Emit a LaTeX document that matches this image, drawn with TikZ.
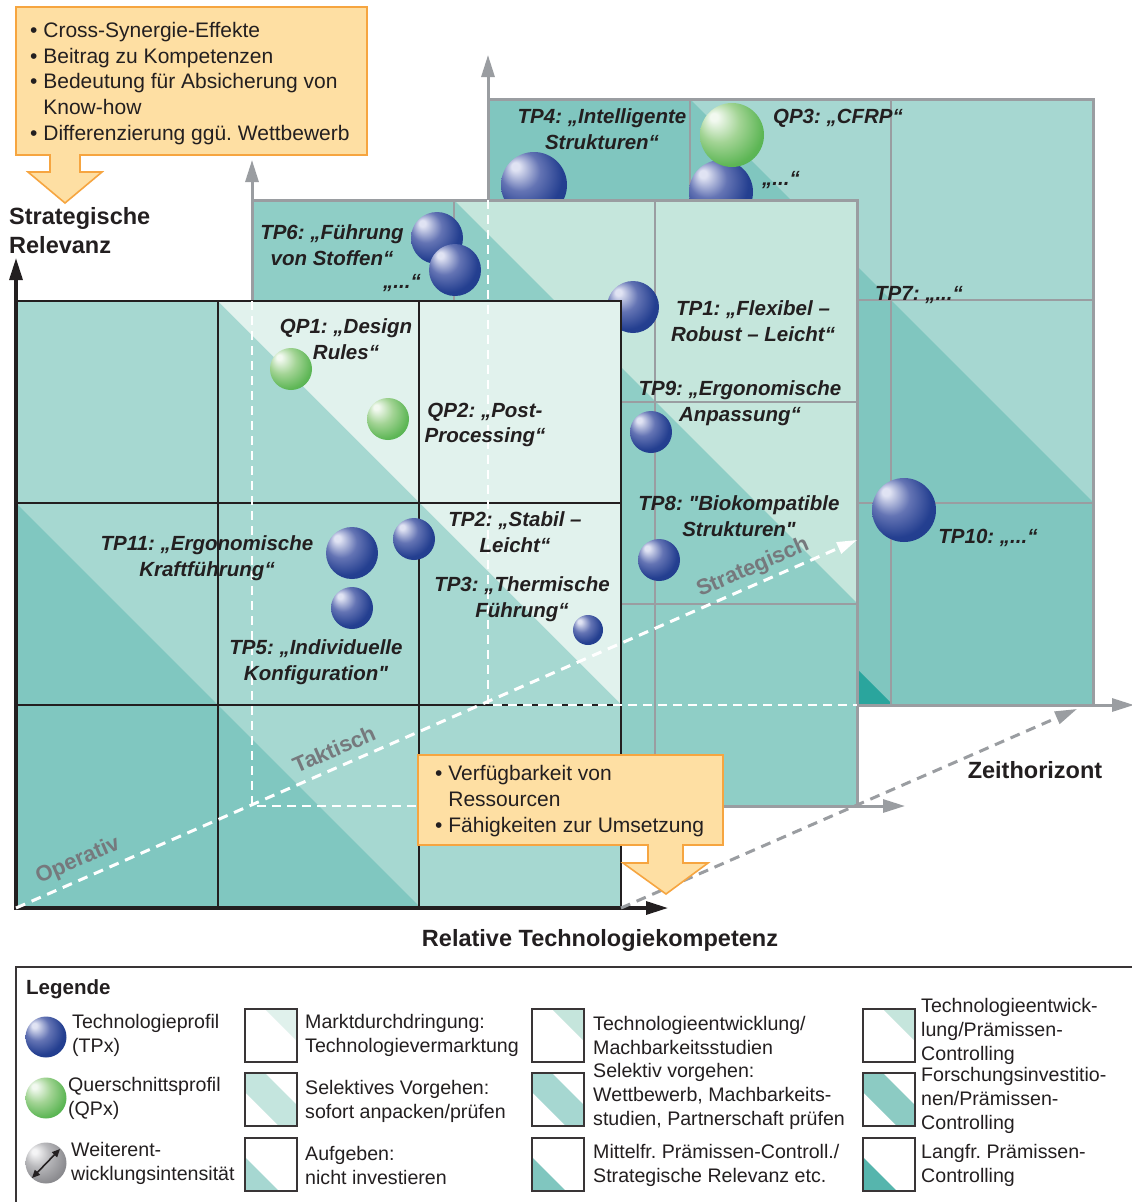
\documentclass[tikz,border=0pt]{standalone}
\usepackage{fontspec}
\setmainfont{Liberation Sans}
\usetikzlibrary{arrows.meta}

\definecolor{ink}{HTML}{231F20}
\definecolor{axgray}{HTML}{9A9DA1}
\definecolor{lblgray}{HTML}{76797D}
% front (operative) matrix
\definecolor{fL}{HTML}{E1F2ED}
\definecolor{fM}{HTML}{A6D8D1}
\definecolor{fD}{HTML}{80C7C0}
% middle (tactical) matrix
\definecolor{mL}{HTML}{C5E6DC}
\definecolor{mM}{HTML}{8FCEC6}
\definecolor{mD}{HTML}{6CBFB7}
% back (strategic) matrix
\definecolor{bL}{HTML}{A6D7D1}
\definecolor{bM}{HTML}{80C6BF}
\definecolor{bD}{HTML}{2AA59D}
% call-out boxes
\definecolor{orFill}{HTML}{FEDFA3}
\definecolor{orLine}{HTML}{F6A540}
% legend tiles
\definecolor{tA1}{HTML}{E0F1EC}
\definecolor{tA2}{HTML}{C4E5DE}
\definecolor{tA3}{HTML}{A6D7D1}
\definecolor{tB1}{HTML}{C5E5DC}
\definecolor{tB2}{HTML}{A6D7D1}
\definecolor{tB3}{HTML}{80C6BF}
\definecolor{tC1}{HTML}{C5E5DC}
\definecolor{tC2}{HTML}{8CCBC3}
\definecolor{tC3}{HTML}{56B5AD}
% sphere shadings
\definecolor{sbA}{HTML}{E0E3F3}
\definecolor{sbB}{HTML}{6474B4}
\definecolor{sbC}{HTML}{243F90}
\definecolor{sbD}{HTML}{163887}
\definecolor{sgA}{HTML}{F2F9F0}
\definecolor{sgB}{HTML}{A3D495}
\definecolor{sgC}{HTML}{5DB655}
\definecolor{sgD}{HTML}{2EAA4C}
\definecolor{swA}{HTML}{F4F4F5}
\definecolor{swB}{HTML}{B9B9BC}
\definecolor{swC}{HTML}{8C8C90}
\definecolor{swD}{HTML}{67676B}

\pgfdeclareradialshading{sphblue}{\pgfpoint{-15bp}{15bp}}{color(0bp)=(sbA); color(3bp)=(sbA); color(15bp)=(sbB); color(28bp)=(sbC); color(50bp)=(sbD)}
\pgfdeclareradialshading{sphgreen}{\pgfpoint{-15bp}{15bp}}{color(0bp)=(sgA); color(3bp)=(sgA); color(16bp)=(sgB); color(30bp)=(sgC); color(50bp)=(sgD)}
\pgfdeclareradialshading{sphgray}{\pgfpoint{-15bp}{15bp}}{color(0bp)=(swA); color(3bp)=(swA); color(15bp)=(swB); color(30bp)=(swC); color(50bp)=(swD)}

% legend tiles: upper triangle, diagonal band, lower triangle
\newcommand\tileU[3]{\begin{scope}[shift={(#1,#2)}]
  \fill[#3] (20,0) -- (52,0) -- (52,32) -- cycle;
  \draw[tileframe] (0,0) rectangle (52,53);\end{scope}}
\newcommand\tileB[3]{\begin{scope}[shift={(#1,#2)}]
  \fill[#3] (0,0) -- (20,0) -- (52,32) -- (52,53) -- (34,53) -- (0,19) -- cycle;
  \draw[tileframe] (0,0) rectangle (52,53);\end{scope}}
\newcommand\tileD[3]{\begin{scope}[shift={(#1,#2)}]
  \fill[#3] (0,19) -- (0,53) -- (34,53) -- cycle;
  \draw[tileframe] (0,0) rectangle (52,53);\end{scope}}

\begin{document}
\frenchspacing
\begin{tikzpicture}[x=1pt,y=-1pt,
  frameG/.style={draw=axgray, line width=3pt},
  gridG/.style={draw=axgray, line width=2pt},
  frameK/.style={draw=ink, line width=2.6pt},
  gridK/.style={draw=ink, line width=2pt},
  axisK/.style={draw=ink, line width=3.2pt, {Triangle[length=22pt,width=13pt]}-{Triangle[length=22pt,width=13pt]}},
  axisG/.style={draw=axgray, line width=3pt, {Triangle[length=22pt,width=13pt]}-{Triangle[length=22pt,width=13pt]}},
  wdash/.style={draw=white, line width=2.6pt, dash pattern=on 9pt off 6pt},
  sph/.style={circle, inner sep=0pt, draw=none, shade},
  blueS/.style={sph, shading=sphblue},
  greenS/.style={sph, shading=sphgreen},
  grayS/.style={sph, shading=sphgray},
  lbl/.style={font=\fontsize{20.5}{25.5}\selectfont\bfseries\itshape, text=ink, align=center, inner sep=0pt},
  axlbl/.style={font=\fontsize{23.5}{29}\selectfont\bfseries, text=ink, inner sep=0pt},
  diaglbl/.style={font=\fontsize{22}{26}\selectfont\bfseries, text=lblgray, rotate=23.4, inner sep=0pt},
  otext/.style={font=\fontsize{21}{25.8}\selectfont, text=ink, align=left, inner sep=0pt, anchor=west},
  obox/.style={fill=orFill, draw=orLine, line width=1.6pt},
  legtxt/.style={font=\fontsize{19.6}{24}\selectfont, text=ink, align=left, inner sep=0pt, anchor=west},
  tileframe/.style={draw=ink!90, line width=1.4pt},
]
\useasboundingbox (0,0) rectangle (1132,1202);
\clip (0,0) rectangle (1132,1202);
\fill[white] (0,0) rectangle (1132,1202);

% ---------- strategic (back) matrix ----------
\fill[bM] (488,99) rectangle (1093,705);
\fill[bL] (690,99) -- (1093,99) -- (1093,502) -- cycle;
\fill[bD] (488,300) -- (488,705) -- (893,705) -- cycle;
\draw[gridG] (690,99) -- (690,705) (891,99) -- (891,705) (488,300) -- (1093,300) (488,503) -- (1093,503);
\draw[frameG] (488,99) rectangle (1093,705);
\draw[axisG] (488,55) -- (488,705) -- (1134,705);

\node[blueS, minimum size=66pt] (sTP4) at (534,185) {};
\node[blueS, minimum size=64pt] (sB2) at (721,192) {};
\node[greenS, minimum size=64pt] (sQP3) at (732,135) {};
\node[blueS, minimum size=64pt] (sTP10) at (904,510) {};
\node[lbl] (tTP4) at (602,129) {TP4: „Intelligente\\Strukturen“};
\node[lbl] (tQP3) at (838,118) {QP3: „CFRP“};
\node[lbl] (tB2) at (781,180) {„...“};
\node[lbl] (tTP7) at (919,295) {TP7: „...“};
\node[lbl] (tTP10) at (988,538) {TP10: „...“};

% ---------- tactical (middle) matrix ----------
\fill[mM] (252,200) rectangle (857,806);
\fill[mL] (454,200) -- (857,200) -- (857,603) -- cycle;
\fill[mD] (252,402) -- (252,806) -- (656,806) -- cycle;
\draw[gridG] (454,200) -- (454,806) (655,200) -- (655,806) (252,402) -- (857,402) (252,604) -- (857,604);
\draw[frameG] (252,200) rectangle (857,806);
\draw[axisG] (252,160) -- (252,806) -- (905,806);

\node[blueS, minimum size=52pt] (sTP6a) at (437,238) {};
\node[blueS, minimum size=52pt] (sTP6b) at (455,270) {};
\node[blueS, minimum size=52pt] (sTP1) at (633,307) {};
\node[blueS, minimum size=42pt] (sTP9) at (651,432) {};
\node[blueS, minimum size=42pt] (sTP8) at (659,560) {};
\node[lbl] (tTP6) at (332,245) {TP6: „Führung\\von Stoffen“};
\node[lbl] (tM2) at (402,283) {„...“};
\node[lbl] (tTP1) at (753,321) {TP1: „Flexibel –\\Robust – Leicht“};
\node[lbl] (tTP9) at (740,403) {TP9: „Ergonomische\\Anpassung“};
\node[lbl] (tTP8) at (739,516) {TP8: \textquotedbl Biokompatible\\Strukturen\textquotedbl};

% ---------- operative (front) matrix ----------
\fill[fM] (16,301) rectangle (621,908);
\fill[fL] (218,301) -- (621,301) -- (621,704) -- cycle;
\fill[fD] (16,503) -- (16,908) -- (421,908) -- cycle;
\draw[gridK] (218,301) -- (218,908) (419,301) -- (419,908) (16,503) -- (621,503) (16,705) -- (621,705);
\draw[frameK] (16,301) rectangle (621,908);
\draw[axisK] (16,258) -- (16,908) -- (668,908);

% hidden edges of the rear matrices
\coordinate (oF) at (16,908);
\coordinate (oM) at (252,806);
\coordinate (oB) at (488,705);
\coordinate (cF) at (621,908);
\coordinate (cM) at (857,806);
\coordinate (tipW) at (857,540);
\coordinate (tipG) at (1077,709);
\draw[wdash] (252,301) -- (oM) -- (621,806);
\draw[wdash] (488,200) -- (oB) -- (857,705);

\node[greenS, minimum size=42pt] (sQP1) at (291,369) {};
\node[greenS, minimum size=42pt] (sQP2) at (388,419) {};
\node[blueS, minimum size=52pt] (sTP11) at (352,553) {};
\node[blueS, minimum size=42pt] (sTP2) at (414,539) {};
\node[blueS, minimum size=42pt] (sTP5) at (352,608) {};
\node[blueS, minimum size=30pt] (sTP3) at (588,630) {};
\node[lbl] (tQP1) at (346,339) {QP1: „Design\\Rules“};
\node[lbl] (tQP2) at (485,425) {QP2: „Post-\\Processing“};
\node[lbl] (tTP11) at (207,558) {TP11: „Ergonomische\\Kraftführung“};
\node[lbl] (tTP2) at (515,532) {TP2: „Stabil –\\Leicht“};
\node[lbl] (tTP3) at (522,599) {TP3: „Thermische\\Führung“};
\node[lbl] (tTP5) at (316,662) {TP5: „Individuelle\\Konfiguration\textquotedbl};

% time horizon diagonals
\draw[wdash, line width=3pt, dash pattern=on 10pt off 7pt, -{Triangle[length=20pt,width=12pt]}] (oF) -- (tipW);
\node[diaglbl] (dOp) at (78,861) {Operativ};
\node[diaglbl] (dTa) at (334,749) {Taktisch};
\node[diaglbl] (dSt) at (753,568) {Strategisch};
\draw[axgray, line width=3pt, dash pattern=on 10pt off 7pt, -{Triangle[length=22pt,width=13pt]}] (cF) -- (tipG);

% call-out boxes
\filldraw[obox] (16,7) -- (367,7) -- (367,155) -- (80,155) -- (80,172) -- (102,172) -- (65,203) -- (28,172) -- (50,172) -- (50,155) -- (16,155) -- cycle;
\node[otext] (oTop) at (30,83.5) {• Cross-Synergie-Effekte\\• Beitrag zu Kompetenzen\\• Bedeutung für Absicherung von\\\hphantom{• }Know-how\\• Differenzierung ggü. Wettbewerb};
\filldraw[obox] (418,755) -- (723,755) -- (723,845) -- (683,845) -- (683,863) -- (708,863) -- (666,894) -- (623,863) -- (648,863) -- (648,845) -- (418,845) -- cycle;
\node[otext] (oBot) at (435,801) {• Verfügbarkeit von\\\hphantom{• }Ressourcen\\• Fähigkeiten zur Umsetzung};

% axis titles
\node[axlbl, align=left, anchor=west] (yTitle) at (9,230.5) {Strategische\\Relevanz};
\node[axlbl] (xTitle) at (600,940) {Relative Technologiekompetenz};
\node[axlbl] (zTitle) at (1035,770) {Zeithorizont};

% ---------- legend ----------
\draw[draw=ink!90, line width=1.5pt] (16,967) rectangle (1150,1220);
\node[font=\fontsize{20.5}{24}\selectfont\bfseries, text=ink, inner sep=0pt, anchor=west] (legT) at (26,989) {Legende};

\node[blueS, minimum size=41pt] (lgB) at (46,1037) {};
\node[greenS, minimum size=41pt] (lgG) at (46,1098) {};
\node[grayS, minimum size=41pt] (lgW) at (46,1163) {};
\coordinate (wA) at (32,1178);
\coordinate (wB) at (60,1149);
\draw[ink, line width=1.6pt, {Triangle[length=8pt,width=7pt]}-{Triangle[length=8pt,width=7pt]}] (wA) -- (wB);
\node[legtxt] (lg1) at (72,1035) {Technologieprofil\\(TPx)};
\node[legtxt] (lg2) at (68,1098.5) {Querschnittsprofil\\(QPx)};
\node[legtxt] (lg3) at (71,1163) {Weiterent-\\wicklungsintensität};

\tileU{245}{1009}{tA1}
\tileB{245}{1073}{tA2}
\tileD{245}{1138}{tA3}
\node[legtxt] (lg4) at (305,1035) {Marktdurchdringung:\\Technologievermarktung};
\node[legtxt] (lg5) at (305,1101) {Selektives Vorgehen:\\sofort anpacken/prüfen};
\node[legtxt] (lg6) at (305,1165) {Aufgeben:\\nicht investieren};

\tileU{532}{1009}{tB1}
\tileB{532}{1073}{tB2}
\tileD{532}{1138}{tB3}
\node[legtxt] (lg7) at (593,1035) {Technologieentwicklung/\\Machbarkeitsstudien};
\node[legtxt] (lg8) at (593,1096) {Selektiv vorgehen:\\Wettbewerb, Machbarkeits-\\studien, Partnerschaft prüfen};
\node[legtxt] (lg9) at (593,1165) {Mittelfr. Prämissen-Controll./\\Strategische Relevanz etc.};

\tileU{863}{1009}{tC1}
\tileB{863}{1073}{tC2}
\tileD{863}{1138}{tC3}
\node[legtxt] (lg10) at (921,1031) {Technologieentwick-\\lung/Prämissen-\\Controlling};
\node[legtxt] (lg11) at (921,1100) {Forschungsinvestitio-\\nen/Prämissen-\\Controlling};
\node[legtxt] (lg12) at (921,1165) {Langfr. Prämissen-\\Controlling};
\end{tikzpicture}
\end{document}
